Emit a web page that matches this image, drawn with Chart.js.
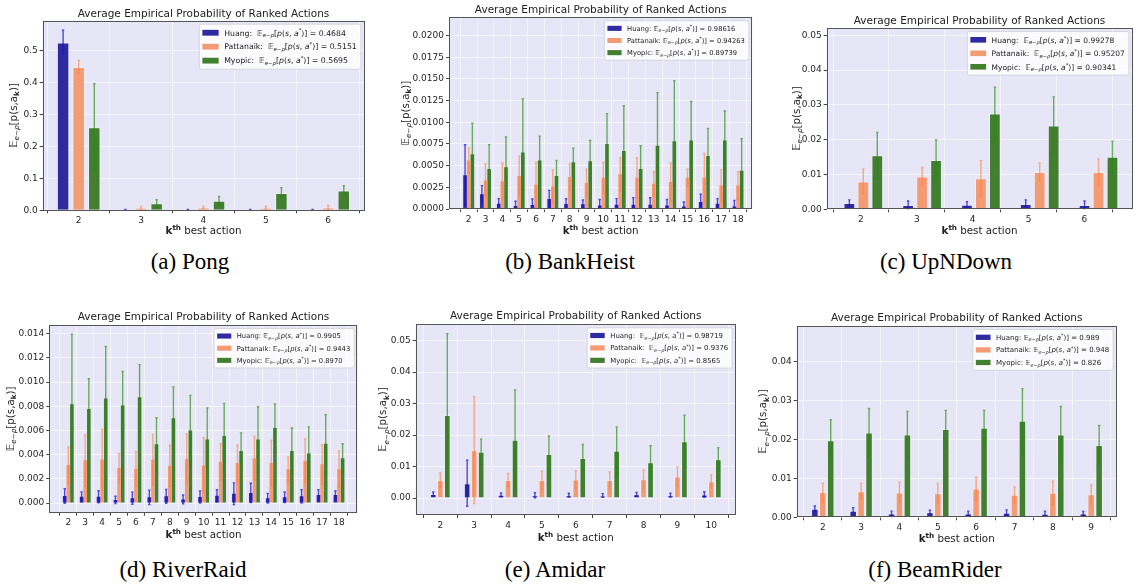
<!DOCTYPE html>
<html>
<head>
<meta charset="utf-8">
<script src="https://cdn.jsdelivr.net/npm/chart.js@4.4.0/dist/chart.umd.min.js"></script>
<style>
  body { margin: 0; background: #fff; width: 1139px; height: 584px; position: relative; overflow: hidden; }
  canvas { position: absolute; }
  .cap { position: absolute; font-family: "Liberation Serif", "Times New Roman", serif; font-size: 23px; color: #000; transform: translateX(-50%); white-space: nowrap; line-height: 26px; }
</style>
</head>
<body>
<div class="cap" style="left:190px;top:249px">(a) Pong</div>
<div class="cap" style="left:570px;top:249px">(b) BankHeist</div>
<div class="cap" style="left:946px;top:249px">(c) UpNDown</div>
<div class="cap" style="left:183px;top:557px">(d) RiverRaid</div>
<div class="cap" style="left:555px;top:557px">(e) Amidar</div>
<div class="cap" style="left:935px;top:557px">(f) BeamRider</div>

<script>
// ---- data ----
const seriesNames = ['Huang', 'Pattanaik', 'Myopic'];

// (a) Pong
const pongRanks = [2, 3, 4, 5, 6];
const pongHuang = [0.525, 0.002, 0.002, 0.002, 0.002];
const pongHuangErr = [0.038, 0.001, 0.001, 0.001, 0.001];
const pongPatt = [0.448, 0.008, 0.009, 0.008, 0.009];
const pongPattErr = [0.021, 0.004, 0.003, 0.004, 0.006];
const pongMyopic = [0.260, 0.022, 0.030, 0.054, 0.062];
const pongMyopicErr = [0.136, 0.011, 0.013, 0.017, 0.015];
const pongLegend = ['0.4684', '0.5151', '0.5695'];
const pongYTicks = [0, 0.1, 0.2, 0.3, 0.4, 0.5];

// (b) BankHeist
const bankRanks = [2, 3, 4, 5, 6, 7, 8, 9, 10, 11, 12, 13, 14, 15, 16, 17, 18];
const bankHuang = [0.0039, 0.0017, 0.0006, 0.00035, 0.00045, 0.00115, 0.00058, 0.00054, 0.0004, 0.0005, 0.0005, 0.0005, 0.0004, 0.0003, 0.0008, 0.0006, 0.0003];
const bankHuangErr = [0.0035, 0.001, 0.0006, 0.00055, 0.0007, 0.001, 0.0006, 0.0005, 0.0007, 0.0007, 0.0008, 0.0008, 0.0007, 0.0005, 0.0009, 0.0006, 0.0007];
const bankPatt = [0.0056, 0.0033, 0.0032, 0.0038, 0.0028, 0.0026, 0.0037, 0.0030, 0.0036, 0.0040, 0.0036, 0.0029, 0.0031, 0.0036, 0.0036, 0.0027, 0.0027];
const bankPattErr = [0.0014, 0.0019, 0.0021, 0.0023, 0.0026, 0.0019, 0.0015, 0.0016, 0.0018, 0.0019, 0.0023, 0.0014, 0.0022, 0.0010, 0.0028, 0.0018, 0.0016];
const bankMyopic = [0.0063, 0.0046, 0.0048, 0.0065, 0.0056, 0.0038, 0.0054, 0.0055, 0.0075, 0.0067, 0.0046, 0.0073, 0.0078, 0.0079, 0.0061, 0.0079, 0.0044];
const bankMyopicErr = [0.0036, 0.0028, 0.0035, 0.0062, 0.0028, 0.0018, 0.0016, 0.0024, 0.0035, 0.0052, 0.0027, 0.0061, 0.0070, 0.0045, 0.0032, 0.0034, 0.0037];
const bankLegend = ['0.98616', '0.94263', '0.89739'];
const bankYTicks = [0, 0.0025, 0.005, 0.0075, 0.01, 0.0125, 0.015, 0.0175, 0.02];

// (c) UpNDown
const upRanks = [2, 3, 4, 5, 6];
const upTickPos = [1.96, 2.91, 3.86, 4.81, 5.76];
const upHuang = [0.0018, 0.0012, 0.0013, 0.0015, 0.0012];
const upHuangErr = [0.0009, 0.0012, 0.0009, 0.0012, 0.0012];
const upPatt = [0.0080, 0.0094, 0.0089, 0.0107, 0.0107];
const upPattErr = [0.0035, 0.0026, 0.0051, 0.0026, 0.0038];
const upMyopic = [0.0155, 0.0142, 0.0275, 0.0241, 0.0151];
const upMyopicErr = [0.0066, 0.0057, 0.0076, 0.0082, 0.0045];
const upLegend = ['0.99278', '0.95207', '0.90341'];
const upYTicks = [0, 0.01, 0.02, 0.03, 0.04, 0.05];

// (d) RiverRaid
const rrRanks = [2, 3, 4, 5, 6, 7, 8, 9, 10, 11, 12, 13, 14, 15, 16, 17, 18];
const rrHuang = [0.00058, 0.00052, 0.00052, 0.00026, 0.0004, 0.00047, 0.00055, 0.0003, 0.0005, 0.0006, 0.00077, 0.00083, 0.0004, 0.00047, 0.00055, 0.00066, 0.00066];
const rrHuangErr = [0.0006, 0.0004, 0.0005, 0.0003, 0.0005, 0.0006, 0.00058, 0.00036, 0.0005, 0.0005, 0.0009, 0.0008, 0.0004, 0.00044, 0.00055, 0.00044, 0.00034];
const rrPatt = [0.00314, 0.00353, 0.00358, 0.00289, 0.00284, 0.00358, 0.00309, 0.00364, 0.0031, 0.0034, 0.0033, 0.0037, 0.0033, 0.0028, 0.0035, 0.0032, 0.0028];
const rrPattErr = [0.0015, 0.0021, 0.0025, 0.0012, 0.0014, 0.0021, 0.0017, 0.0021, 0.0023, 0.0015, 0.0015, 0.0018, 0.0019, 0.0010, 0.0018, 0.0016, 0.0015];
const rrMyopic = [0.00816, 0.00777, 0.00864, 0.00807, 0.00874, 0.00485, 0.0070, 0.0060, 0.00526, 0.00554, 0.0043, 0.00526, 0.0062, 0.0043, 0.0041, 0.0049, 0.0037];
const rrMyopicErr = [0.0058, 0.0025, 0.0043, 0.0028, 0.0027, 0.0022, 0.0026, 0.0029, 0.0026, 0.0027, 0.0015, 0.0027, 0.0020, 0.0019, 0.0022, 0.0024, 0.0012];
const rrLegend = ['0.9905', '0.9443', '0.8970'];
const rrYTicks = [0, 0.002, 0.004, 0.006, 0.008, 0.01, 0.012, 0.014];

// (e) Amidar
const amRanks = [2, 3, 4, 5, 6, 7, 8, 9, 10];
const amHuang = [0.0013, 0.0047, 0.0010, 0.0009, 0.0009, 0.0008, 0.0012, 0.0009, 0.0011];
const amHuangErr = [0.0006, 0.0073, 0.0006, 0.0008, 0.0006, 0.0006, 0.0006, 0.0006, 0.0009];
const amPatt = [0.0057, 0.0152, 0.0057, 0.0057, 0.0059, 0.0057, 0.0060, 0.0068, 0.0053];
const amPattErr = [0.0023, 0.0170, 0.0021, 0.0028, 0.0028, 0.0026, 0.0028, 0.0031, 0.0021];
const amMyopic = [0.0264, 0.0147, 0.0185, 0.0140, 0.0127, 0.0150, 0.0114, 0.0180, 0.0123];
const amMyopicErr = [0.0258, 0.0040, 0.0158, 0.0057, 0.0043, 0.0076, 0.0052, 0.0083, 0.0037];
const amLegend = ['0.98719', '0.9376', '0.8565'];
const amYTicks = [0, 0.01, 0.02, 0.03, 0.04, 0.05];

// (f) BeamRider
const brRanks = [2, 3, 4, 5, 6, 7, 8, 9];
const brHuang = [0.0022, 0.0017, 0.0010, 0.0013, 0.0010, 0.0012, 0.0009, 0.0010];
const brHuangErr = [0.0007, 0.0008, 0.0006, 0.0005, 0.0006, 0.0007, 0.0007, 0.0005];
const brPatt = [0.0065, 0.0067, 0.0064, 0.0062, 0.0074, 0.0058, 0.0063, 0.0059];
const brPattErr = [0.0023, 0.0020, 0.0026, 0.0025, 0.0029, 0.0020, 0.0030, 0.0024];
const brMyopic = [0.0198, 0.0218, 0.0213, 0.0227, 0.0230, 0.0248, 0.0213, 0.0186];
const brMyopicErr = [0.0053, 0.0062, 0.0059, 0.0048, 0.0045, 0.0083, 0.0072, 0.0050];
const brLegend = ['0.989', '0.948', '0.826'];
const brYTicks = [0, 0.01, 0.02, 0.03, 0.04];

// ---- styling ----
const FAMILY = '"DejaVu Sans", "Liberation Sans", sans-serif';
const barColors = ['#2f2a9d', '#f39b73', '#437f31'];
const errColors = ['rgba(25,20,210,0.75)', 'rgba(255,125,65,0.6)', 'rgba(35,140,15,0.65)'];
const LM = 52, RM = 4, TM = 24, BM = 30;
const AXIS_TITLE_SIZE = 10.3;

// panel layout: plot rect in page pixels [left, top, right, bottom]
const panels = [
  { id: 'pong', ranks: pongRanks, series: [pongHuang, pongPatt, pongMyopic], errs: [pongHuangErr, pongPattErr, pongMyopicErr],
    legend: pongLegend, yTicks: pongYTicks, yDec: 1, plot: [42.7, 20.7, 364.3, 210.3], x: [1.423, 6.579], y: [0, 0.593],
    catPct: 0.75, barPct: 0.8, border: 1, legFont: 7.75, sep: '  ', titleOff: 8, xTitleOff: 20, yTitleOff: 29.4 },
  { id: 'bank', ranks: bankRanks, series: [bankHuang, bankPatt, bankMyopic], errs: [bankHuangErr, bankPattErr, bankMyopicErr],
    legend: bankLegend, yTicks: bankYTicks, yDec: 4, plot: [449, 17.3, 752.3, 209], x: [0.83, 18.85], y: [0, 0.0221],
    catPct: 0.65, barPct: 1, border: 0, legFont: 6.75, sep: ' ', titleOff: 8, xTitleOff: 21, yTitleOff: 44 },
  { id: 'up', ranks: upRanks, tickPos: upTickPos, series: [upHuang, upPatt, upMyopic], errs: [upHuangErr, upPattErr, upMyopicErr],
    legend: upLegend, yTicks: upYTicks, yDec: 2, plot: [826.7, 28, 1132.3, 209.3], x: [1.377, 6.575], y: [0, 0.0521],
    catPct: 0.75, barPct: 0.84, border: 1, legFont: 7.5, sep: '  ', titleOff: 8, xTitleOff: 20.7, yTitleOff: 30.7 },
  { id: 'rr', ranks: rrRanks, series: [rrHuang, rrPatt, rrMyopic], errs: [rrHuangErr, rrPattErr, rrMyopicErr],
    legend: rrLegend, yTicks: rrYTicks, yDec: 3, plot: [49.3, 325, 357.7, 512.7], x: [0.877, 19.105], y: [-0.0008, 0.01472],
    catPct: 0.64, barPct: 1, border: 0, legFont: 6.75, sep: ' ', titleOff: 9, xTitleOff: 21.6, yTitleOff: 39 },
  { id: 'am', ranks: amRanks, series: [amHuang, amPatt, amMyopic], errs: [amHuangErr, amPattErr, amMyopicErr],
    legend: amLegend, yTicks: amYTicks, yDec: 2, plot: [415.7, 324.3, 735.7, 515], x: [1.274, 10.72], y: [-0.0054, 0.0552],
    catPct: 0.62, barPct: 0.95, border: 1, legFont: 6.9, sep: '  ', titleOff: 9.3, xTitleOff: 22.3, yTitleOff: 33 },
  { id: 'br', ranks: brRanks, series: [brHuang, brPatt, brMyopic], errs: [brHuangErr, brPattErr, brMyopicErr],
    legend: brLegend, yTicks: brYTicks, yDec: 2, plot: [796.7, 326, 1116.7, 517.3], x: [1.32, 9.665], y: [0, 0.0492],
    catPct: 0.62, barPct: 0.95, border: 1, legFont: 7, sep: ' ', titleOff: 8.7, xTitleOff: 21.4, yTitleOff: 34 }
];
const panelById = {};

// ---- small mathtext-like helper ----
function fontFor(kind, size) {
  const s = size * 0.7;
  switch (kind) {
    case 'i': return `italic ${size}px ${FAMILY}`;
    case 'b': return `bold ${size}px ${FAMILY}`;
    case 'subi': return `italic ${s}px ${FAMILY}`;
    case 'sub': return `${s}px ${FAMILY}`;
    case 'subb': return `bold ${s}px ${FAMILY}`;
    case 'sup': return `${s}px ${FAMILY}`;
    case 'bsup': return `bold ${s}px ${FAMILY}`;
    default: return `${size}px ${FAMILY}`;
  }
}
function shiftFor(kind, size) {
  if (kind.startsWith('sub')) return size * 0.22;
  if (kind === 'sup' || kind === 'bsup') return -size * 0.4;
  return 0;
}
function richWidth(ctx, parts, size) {
  let w = 0;
  for (const [t, k] of parts) { ctx.font = fontFor(k, size); w += ctx.measureText(t).width; }
  return w;
}
function drawRich(ctx, parts, x, baseline, size) {
  let cx = x;
  for (const [t, k] of parts) {
    ctx.font = fontFor(k, size);
    ctx.fillText(t, cx, baseline + shiftFor(k, size));
    cx += ctx.measureText(t).width;
  }
}
function legendParts(name, val, sep) {
  return [[name + ':' + sep, 'n'], ['𝔼', 'n'], ['e∼ρ', 'subi'], ['[', 'n'], ['p', 'i'], ['(', 'n'], ['s', 'i'],
          [', ', 'n'], ['a', 'i'], ['*', 'sup'], [')]', 'n'], [' = ' + val, 'n']];
}
const yTitleParts = [['𝔼', 'n'], ['e∼ρ', 'subi'], ['[p(s,a', 'n'], ['k', 'subb'], [')]', 'n']];
const xTitleParts = [['k', 'b'], ['th', 'bsup'], [' best action', 'n']];

// ---- plugin: background, error bars, frame, titles, legend ----
const panelDecor = {
  id: 'panelDecor',
  beforeDraw(chart) {
    const a = chart.chartArea, ctx = chart.ctx;
    ctx.save();
    ctx.fillStyle = '#e6e6f6';
    ctx.fillRect(a.left, a.top, a.right - a.left, a.bottom - a.top);
    ctx.restore();
  },
  afterDatasetsDraw(chart) {
    const cfg = panelById[chart.canvas.id];
    const a = chart.chartArea, ctx = chart.ctx, ys = chart.scales.y;
    ctx.save();
    ctx.beginPath();
    ctx.rect(a.left, a.top, a.right - a.left, a.bottom - a.top);
    ctx.clip();
    chart.data.datasets.forEach((ds, i) => {
      const meta = chart.getDatasetMeta(i);
      ctx.strokeStyle = errColors[i];
      ctx.lineWidth = 1.4;
      meta.data.forEach((bar, j) => {
        const v = cfg.series[i][j], e = cfg.errs[i][j];
        const x = bar.x;
        const yTop = ys.getPixelForValue(v + e), yBot = ys.getPixelForValue(v - e);
        ctx.beginPath();
        ctx.moveTo(x, yBot); ctx.lineTo(x, yTop);
        ctx.moveTo(x - 1.2, yTop); ctx.lineTo(x + 1.2, yTop);
        ctx.moveTo(x - 1.2, yBot); ctx.lineTo(x + 1.2, yBot);
        ctx.stroke();
      });
    });
    ctx.restore();
  },
  afterDraw(chart) {
    const cfg = panelById[chart.canvas.id];
    const a = chart.chartArea, ctx = chart.ctx;
    ctx.save();
    // axes frame
    ctx.strokeStyle = '#555';
    ctx.lineWidth = 1;
    ctx.strokeRect(Math.round(a.left) + 0.5, Math.round(a.top) + 0.5, Math.round(a.right - a.left) - 1, Math.round(a.bottom - a.top) - 1);

    ctx.fillStyle = '#222';
    ctx.textBaseline = 'alphabetic';
    const cx = (a.left + a.right) / 2;
    // title
    ctx.font = `10.5px ${FAMILY}`;
    ctx.textAlign = 'center';
    ctx.fillText('Average Empirical Probability of Ranked Actions', cx, a.top - cfg.titleOff + 3.8);
    ctx.textAlign = 'left';
    // x title
    const ts = AXIS_TITLE_SIZE;
    const xw = richWidth(ctx, xTitleParts, ts);
    drawRich(ctx, xTitleParts, cx - xw / 2, a.bottom + cfg.xTitleOff + ts * 0.36, ts);
    // y title
    const yw = richWidth(ctx, yTitleParts, ts);
    ctx.save();
    ctx.translate(a.left - cfg.yTitleOff, (a.top + a.bottom) / 2);
    ctx.rotate(-Math.PI / 2);
    drawRich(ctx, yTitleParts, -yw / 2, ts * 0.36, ts);
    ctx.restore();

    // legend
    const fs = cfg.legFont, rowH = fs * 1.8, pad = fs + 0.8;
    const items = seriesNames.map((n, i) => legendParts(n, cfg.legend[i], cfg.sep));
    const tw = Math.max(...items.map(p => richWidth(ctx, p, fs)));
    const handleW = fs * 2.1, handleH = fs * 0.75;
    const boxW = 3 + handleW + 5.5 + tw + 4;
    const boxH = 2 * pad + 2 * rowH;
    const bx = a.right - 3.5 - boxW, by = a.top + 3.5;
    ctx.fillStyle = 'rgba(255,255,255,0.82)';
    ctx.strokeStyle = 'rgba(205,205,210,0.9)';
    ctx.lineWidth = 0.8;
    ctx.beginPath();
    ctx.roundRect(bx, by, boxW, boxH, 2);
    ctx.fill(); ctx.stroke();
    items.forEach((p, i) => {
      const ry = by + pad + i * rowH;
      ctx.fillStyle = barColors[i];
      ctx.fillRect(bx + 3, ry - handleH / 2, handleW, handleH);
      ctx.fillStyle = '#222';
      drawRich(ctx, p, bx + 3 + handleW + 5.5, ry + fs * 0.36, fs);
    });
    ctx.restore();
  }
};

function buildPanel(cfg) {
  panelById[cfg.id] = cfg;
  const [pl, pt, pr, pb] = cfg.plot;
  const left = Math.floor(pl - LM), top = Math.floor(pt - TM);
  const width = Math.ceil(pr + RM) - left, height = Math.ceil(pb + BM) - top;
  const canvas = document.createElement('canvas');
  canvas.id = cfg.id;
  canvas.width = width; canvas.height = height;
  canvas.style.left = left + 'px'; canvas.style.top = top + 'px';
  canvas.style.width = width + 'px'; canvas.style.height = height + 'px';
  document.body.appendChild(canvas);

  const yAxisW = pl - left, xAxisH = top + height - pb;
  const tickPos = cfg.tickPos || cfg.ranks;

  new Chart(canvas.getContext('2d'), {
    type: 'bar',
    data: {
      datasets: seriesNames.map((name, i) => ({
        label: name,
        data: cfg.ranks.map((k, j) => ({ x: k, y: cfg.series[i][j] })),
        backgroundColor: barColors[i],
        borderColor: 'rgba(255,255,255,0.35)',
        borderWidth: cfg.border,
        borderSkipped: 'start',
        categoryPercentage: cfg.catPct,
        barPercentage: cfg.barPct
      }))
    },
    options: {
      responsive: false,
      devicePixelRatio: 1,
      animation: false,
      layout: { padding: { left: 0, top: pt - top, right: left + width - pr, bottom: 0 } },
      plugins: { legend: { display: false }, title: { display: false }, tooltip: { enabled: false } },
      scales: {
        x: {
          type: 'linear', min: cfg.x[0], max: cfg.x[1], offset: false,
          afterBuildTicks: s => { s.ticks = tickPos.map(v => ({ value: v })); },
          afterFit: s => { s.height = xAxisH; },
          ticks: { callback: (v, i) => String(cfg.ranks[i]), font: { family: FAMILY, size: 9 }, color: '#262626',
                   padding: 2, autoSkip: false, maxRotation: 0, minRotation: 0 },
          grid: { color: 'rgba(255,255,255,0.6)', lineWidth: 1, tickLength: 3, tickColor: '#444' },
          border: { display: false }
        },
        y: {
          type: 'linear', min: cfg.y[0], max: cfg.y[1],
          afterBuildTicks: s => { s.ticks = cfg.yTicks.map(v => ({ value: v })); },
          afterFit: s => { s.width = yAxisW; },
          ticks: { callback: v => v.toFixed(cfg.yDec), font: { family: FAMILY, size: 9 }, color: '#262626', padding: 2 },
          grid: { color: 'rgba(255,255,255,0.6)', lineWidth: 1, tickLength: 3, tickColor: '#444' },
          border: { display: false }
        }
      }
    },
    plugins: [panelDecor]
  });
}

panels.forEach(buildPanel);
</script>
</body>
</html>
